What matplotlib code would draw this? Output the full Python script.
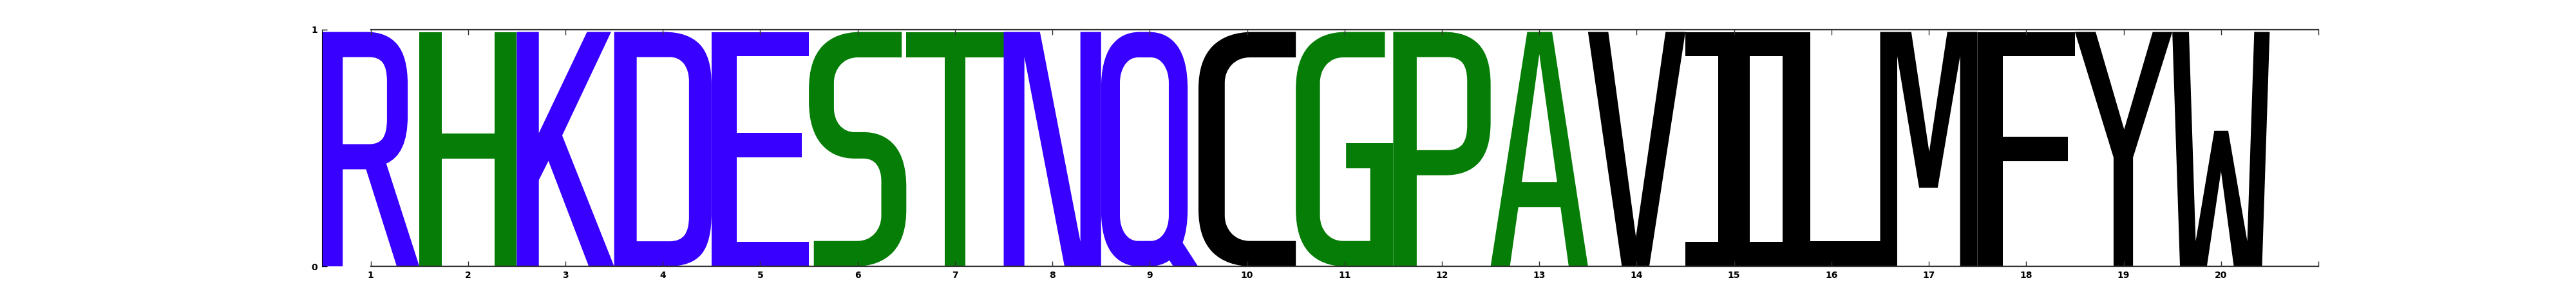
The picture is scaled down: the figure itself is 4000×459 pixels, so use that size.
import matplotlib
matplotlib.use('Agg')
import matplotlib.pyplot as plt
from matplotlib.textpath import TextPath
from matplotlib.patches import PathPatch
from matplotlib.transforms import Affine2D
from matplotlib.font_manager import FontProperties

# one residue per position, each filling the column
letters = ['R', 'H', 'K', 'D', 'E', 'S', 'T', 'N', 'Q', 'C',
           'G', 'P', 'A', 'V', 'I', 'L', 'M', 'F', 'Y', 'W']
positions = list(range(1, 21))
heights = [1.0, 1.0, 1.0, 1.0, 1.0, 1.0, 1.0, 1.0, 1.0, 1.0,
           1.0, 1.0, 1.0, 1.0, 1.0, 1.0, 1.0, 1.0, 1.0, 1.0]
blue = '#3700ff'
green = '#067d06'
black = '#000000'
colors = [blue, green, blue, blue, blue, green, green, blue, blue, black,
          green, green, green, black, black, black, black, black, black, black]
xtick_pos = list(range(1, 22))
xtick_labels = [str(p) for p in positions] + ['']

fig = plt.figure(figsize=(40, 4.59), dpi=100)
ax = fig.add_axes([0.125, 0.1, 0.775, 0.8])

fp = FontProperties(family=['Share Tech Mono', 'DejaVu Sans Mono'])
for aa, x, h, c in zip(letters, positions, heights, colors):
    tp = TextPath((0, 0), aa, size=1, prop=fp)
    bb = tp.get_extents()
    y0 = max(bb.y0, 0)  # descenders (Q tail) go under the axis and get clipped
    t = Affine2D().translate(-bb.x0, -y0).scale(1.0 / bb.width, 0.99 * h / (bb.y1 - y0)).translate(x - 0.5, 0)
    ax.add_patch(PathPatch(t.transform_path(tp), facecolor=c, edgecolor='none', lw=0))

ax.set_xlim(0.5, 21)
ax.set_ylim(0, 1)

ax.spines['right'].set_visible(False)
for s in ['top', 'bottom']:
    ax.spines[s].set_bounds(1, 21)
    ax.spines[s].set_color('#333333')
    ax.spines[s].set_linewidth(1.6)
ax.spines['left'].set_color('k')
ax.spines['left'].set_linewidth(0.8)

ax.set_xticks(xtick_pos)
ax.set_xticklabels(xtick_labels, fontweight='bold', fontsize=10)
ax.set_yticks([0, 1])
ax.set_yticklabels(['0', '1'], fontweight='bold', fontsize=10)
ax.tick_params(axis='x', direction='in', top=True, bottom=True, length=6, width=1, color='#333333', pad=5)
ax.tick_params(axis='y', direction='in', left=True, right=False, length=6, width=1, pad=5)

fig.savefig('out.png', dpi=100)
